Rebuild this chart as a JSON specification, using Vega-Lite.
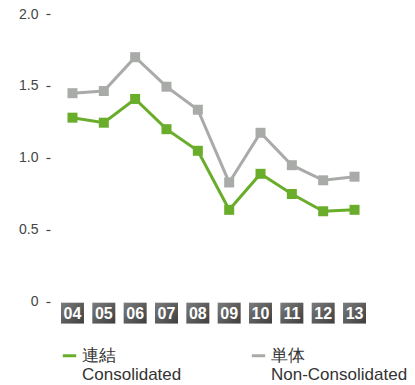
{
  "$schema": "https://vega.github.io/schema/vega-lite/v6.json",
  "width": 327,
  "height": 310,
  "autosize": "none",
  "padding": {"left": 50, "top": 14, "right": 38, "bottom": 61},
  "background": "white",
  "config": {"view": {"stroke": null}, "font": "Liberation Sans"},
  "datasets": {
    "series": [
      {"year": "04", "series": "連結", "value": 1.28},
      {"year": "05", "series": "連結", "value": 1.245},
      {"year": "06", "series": "連結", "value": 1.41},
      {"year": "07", "series": "連結", "value": 1.20},
      {"year": "08", "series": "連結", "value": 1.05},
      {"year": "09", "series": "連結", "value": 0.64},
      {"year": "10", "series": "連結", "value": 0.89},
      {"year": "11", "series": "連結", "value": 0.75},
      {"year": "12", "series": "連結", "value": 0.63},
      {"year": "13", "series": "連結", "value": 0.64},
      {"year": "04", "series": "単体", "value": 1.45},
      {"year": "05", "series": "単体", "value": 1.465},
      {"year": "06", "series": "単体", "value": 1.70},
      {"year": "07", "series": "単体", "value": 1.495},
      {"year": "08", "series": "単体", "value": 1.335},
      {"year": "09", "series": "単体", "value": 0.83},
      {"year": "10", "series": "単体", "value": 1.175},
      {"year": "11", "series": "単体", "value": 0.95},
      {"year": "12", "series": "単体", "value": 0.845},
      {"year": "13", "series": "単体", "value": 0.87}
    ],
    "years": [
      {"year": "04"}, {"year": "05"}, {"year": "06"}, {"year": "07"}, {"year": "08"},
      {"year": "09"}, {"year": "10"}, {"year": "11"}, {"year": "12"}, {"year": "13"}
    ]
  },
  "encoding": {
    "x": {
      "field": "year",
      "type": "nominal",
      "sort": null,
      "scale": {"type": "band", "paddingInner": 0.266, "paddingOuter": 0.35},
      "axis": null
    }
  },
  "layer": [
    {
      "data": {"name": "years"},
      "mark": {
        "type": "bar",
        "fill": {
          "gradient": "linear", "x1": 0, "x2": 1, "y1": 0, "y2": 1,
          "stops": [{"offset": 0, "color": "#7c7c7c"}, {"offset": 1, "color": "#3e3e3e"}]
        }
      },
      "encoding": {
        "y": {"datum": -0.005, "type": "quantitative", "scale": {"domain": [-0.153, 2.0], "nice": false, "zero": false}},
        "y2": {"datum": -0.15}
      }
    },
    {
      "data": {"name": "years"},
      "mark": {"type": "text", "color": "white", "fontSize": 16, "fontWeight": "bold", "font": "Liberation Sans", "baseline": "middle", "dy": 1},
      "encoding": {
        "y": {"datum": -0.077, "type": "quantitative"},
        "text": {"field": "year"}
      }
    },
    {
      "data": {"name": "series"},
      "mark": {"type": "line", "strokeWidth": 3},
      "encoding": {
        "y": {
          "field": "value", "type": "quantitative",
          "scale": {"domain": [-0.153, 2.0], "nice": false, "zero": false},
          "axis": {
            "values": [0, 0.5, 1, 1.5, 2],
            "labelExpr": "datum.value == 0 ? '0' : format(datum.value, '.1f')",
            "domain": false, "grid": false,
            "tickSize": 4, "tickColor": "#444", "tickWidth": 1.2,
            "labelPadding": 8, "labelFontSize": 14, "labelColor": "#444",
            "labelFont": "Liberation Sans", "title": null
          }
        },
        "color": {
          "field": "series", "type": "nominal",
          "scale": {"domain": ["連結", "単体"], "range": ["#6aad2b", "#a9aba9"]},
          "legend": {
            "orient": "none", "legendX": 11, "legendY": 333,
            "direction": "horizontal", "title": null,
            "symbolType": "stroke", "symbolStrokeWidth": 3, "symbolSize": 180,
            "labelExpr": "datum.label == '連結' ? ['連結', 'Consolidated'] : ['単体', 'Non-Consolidated']",
            "labelFontSize": 17, "labelColor": "#333", "labelFont": "Liberation Sans",
            "labelBaseline": "middle", "labelLimit": 300, "columnPadding": 63, "labelOffset": 4
          }
        }
      }
    },
    {
      "data": {"name": "series"},
      "mark": {"type": "square", "size": 100, "opacity": 1, "filled": true},
      "encoding": {
        "y": {"field": "value", "type": "quantitative"},
        "color": {"field": "series", "type": "nominal", "legend": null}
      }
    }
  ]
}
